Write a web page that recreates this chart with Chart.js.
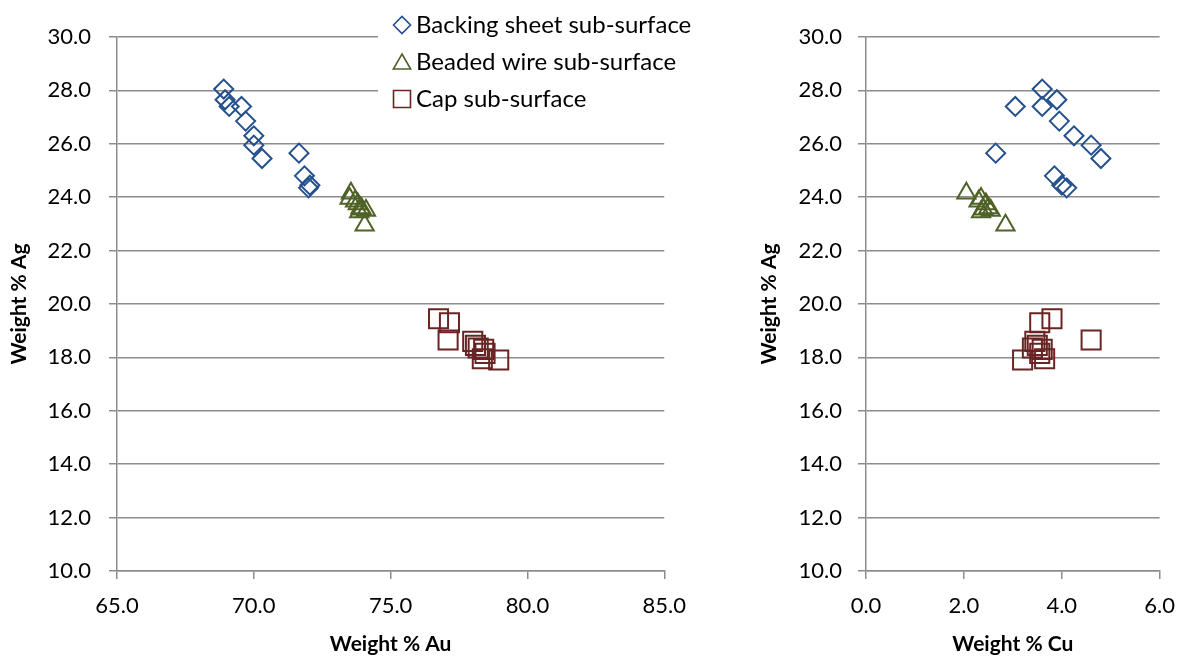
<!DOCTYPE html>
<html>
<head>
<meta charset="utf-8">
<script src="https://cdn.jsdelivr.net/npm/chart.js@4"></script>
<style>
  body { margin: 0; background: #fff; overflow: hidden; }
  .box { position: absolute; top: 0; height: 657px; }
</style>
</head>
<body>
<div class="box" style="left:0;width:700px"><canvas id="auChart"></canvas></div>
<div class="box" style="left:700px;width:489px"><canvas id="cuChart"></canvas></div>
<script>
// series names
const seriesNames = ['Backing sheet sub-surface', 'Beaded wire sub-surface', 'Cap sub-surface'];

// backing sheet sub-surface (weight %)
const backingAu = [68.9, 68.95, 69.1, 69.55, 69.7, 70.0, 70.0, 70.3, 71.65, 71.85, 72.05, 72.0];
const backingAg = [28.05, 27.65, 27.4, 27.4, 26.85, 26.3, 25.95, 25.45, 25.65, 24.8, 24.45, 24.35];
const backingCu = [3.6, 3.9, 3.6, 3.05, 3.95, 4.25, 4.6, 4.8, 2.65, 3.85, 4.0, 4.1];

// beaded wire sub-surface
const beadedAu = [73.55, 73.5, 73.7, 73.8, 73.9, 73.95, 74.1, 73.85, 74.05];
const beadedAg = [24.15, 23.95, 23.85, 23.75, 23.6, 23.55, 23.5, 23.45, 22.95];
const beadedCu = [2.05, 2.35, 2.3, 2.45, 2.5, 2.4, 2.55, 2.35, 2.85];

// cap sub-surface
const capAu = [76.75, 77.15, 77.1, 78.0, 78.1, 78.2, 78.4, 78.45, 78.35, 78.95];
const capAg = [19.45, 19.3, 18.65, 18.6, 18.45, 18.35, 18.3, 18.15, 17.95, 17.9];
const capCu = [3.8, 3.55, 4.6, 3.45, 3.5, 3.4, 3.6, 3.55, 3.65, 3.2];

// axis ticks: min, max, step
const agTicks = [10, 30, 2];
const auTicks = [65, 85, 5];
const cuTicks = [0, 6, 2];

const FONT = 'Lato';
const GRID = '#8c8c8c';

function pts(xs, ys) {
    return xs.map((x, i) => ({ x: x, y: ys[i] }));
}

function makeDatasets(useCu) {
    return [
        { label: seriesNames[0], data: pts(useCu ? backingCu : backingAu, backingAg),
          pointStyle: 'rectRot', pointRadius: 9.5, borderColor: '#24508c' },
        { label: seriesNames[1], data: pts(useCu ? beadedCu : beadedAu, beadedAg),
          pointStyle: 'triangle', pointRadius: 10.5, borderColor: '#4f6228' },
        { label: seriesNames[2], data: pts(useCu ? capCu : capAu, capAg),
          pointStyle: 'rect', pointRadius: 13.5, borderColor: '#6a2424' }
    ].map(ds => Object.assign(ds, {
        backgroundColor: 'rgba(0,0,0,0)',
        pointBorderColor: ds.borderColor,
        pointBorderWidth: 2,
        pointHoverRadius: ds.pointRadius,
        showLine: false
    }));
}

// legend box drawn inside the left plot, over the gridlines
const legendBox = {
    id: 'legendBox',
    afterDraw(chart) {
        if (!chart.options.plugins.legendBox.show) return;
        const ctx = chart.ctx;
        ctx.save();
        ctx.fillStyle = '#fff';
        ctx.fillRect(378, 6, 322, 112);
        chart.data.datasets.forEach((ds, i) => {
            const y = 25 + i * 37;
            ctx.fillStyle = '#fff';
            ctx.strokeStyle = ds.borderColor;
            ctx.lineWidth = 1.6;
            Chart.helpers.drawPoint(ctx, {
                pointStyle: ds.pointStyle,
                radius: ds.pointStyle === 'rect' ? 12 : (ds.pointStyle === 'triangle' ? 10 : 8.5),
                borderWidth: 1.6, rotation: 0
            }, 402, y + (ds.pointStyle === 'triangle' ? 2 : 0));
            ctx.fillStyle = '#000';
            ctx.font = '24px ' + FONT;
            ctx.textBaseline = 'middle';
            ctx.fillText(ds.label, 416, y);
        });
        ctx.restore();
    }
};

function makeChart(id, useCu, xt, xTitle, yWidth, rightPad, yTitlePad, yTickPad) {
    const ctx = document.getElementById(id).getContext('2d');
    return new Chart(ctx, {
        type: 'scatter',
        data: { datasets: makeDatasets(useCu) },
        plugins: [legendBox],
        options: {
            responsive: true,
            maintainAspectRatio: false,
            animation: false,
            layout: { padding: { top: 37, right: rightPad, bottom: 0, left: 0 } },
            plugins: {
                legend: { display: false },
                tooltip: { enabled: false },
                legendBox: { show: !useCu }
            },
            scales: {
                x: {
                    type: 'linear',
                    min: xt[0], max: xt[1],
                    ticks: { stepSize: xt[2], padding: 14, color: '#000',
                             font: { family: FONT, size: 22 },
                             callback: v => v.toFixed(1) },
                    grid: { drawOnChartArea: false, drawTicks: true, tickLength: 8,
                            color: GRID, lineWidth: 1.5 },
                    border: { color: GRID, width: 1.5 },
                    title: { display: true, text: xTitle, color: '#000',
                             font: { family: FONT, size: 21, weight: 'bold' },
                             padding: { top: 0, bottom: 0 } },
                    afterFit: s => { s.height = 86; }
                },
                y: {
                    type: 'linear',
                    min: agTicks[0], max: agTicks[1],
                    ticks: { stepSize: agTicks[2], padding: yTickPad, color: '#000',
                             font: { family: FONT, size: 22 },
                             callback: v => v.toFixed(1) },
                    grid: { color: GRID, lineWidth: 1.5, tickLength: 8 },
                    border: { color: GRID, width: 1.5 },
                    title: { display: true, text: 'Weight % Ag', color: '#000',
                             font: { family: FONT, size: 21, weight: 'bold' },
                             padding: { top: yTitlePad, bottom: 0 } },
                    afterFit: s => { s.width = yWidth; }
                }
            }
        }
    });
}

makeChart('auChart', false, auTicks, 'Weight % Au', 117, 35, 7, 18);
makeChart('cuChart', true, cuTicks, 'Weight % Cu', 166, 19, 57, 16);
</script>
</body>
</html>
